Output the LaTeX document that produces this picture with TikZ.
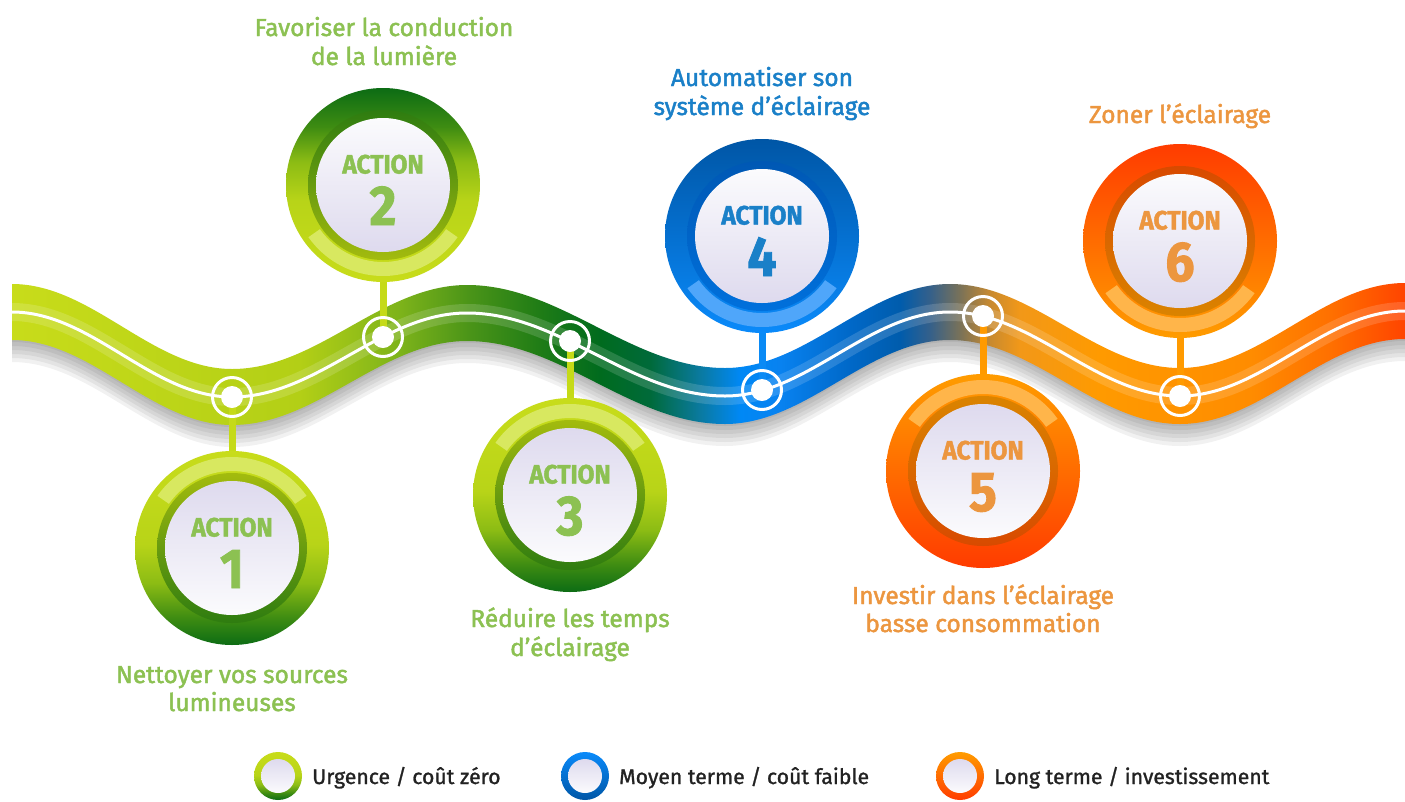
\documentclass[tikz,border=0pt]{standalone}
\usepackage{fontspec}
\setmainfont{Fira Sans}
\newfontfamily\labfont[FakeBold=1.8]{Fira Sans}
\newfontfamily\legfont[FakeBold=1.2]{Fira Sans}
\newfontfamily\actfont[BoldFeatures={FakeBold=1.6,FakeStretch=0.92}]{Fira Sans}
\usetikzlibrary{calc}
\definecolor{b0}{HTML}{C8DC1A}\definecolor{b1}{HTML}{B3CF16}\definecolor{b2}{HTML}{7DB31A}
\definecolor{b3}{HTML}{4A9418}\definecolor{b4}{HTML}{1F7C16}\definecolor{b5}{HTML}{006B1E}
\definecolor{b6}{HTML}{006A3A}\definecolor{b7}{HTML}{0A7AA0}\definecolor{b8}{HTML}{0088F5}
\definecolor{b9}{HTML}{0882F0}\definecolor{b10}{HTML}{0068C8}\definecolor{b11}{HTML}{005CAC}
\definecolor{b12}{HTML}{35608A}\definecolor{b13}{HTML}{7A7258}\definecolor{b14}{HTML}{C88A30}
\definecolor{b15}{HTML}{F29818}\definecolor{b16}{HTML}{FF9A00}\definecolor{b17}{HTML}{FF8C00}
\definecolor{b18}{HTML}{FF7000}\definecolor{b19}{HTML}{FF4400}
\pgfdeclarehorizontalshading{bandshade}{100bp}{color(0bp)=(b0); color(25bp)=(b0);
 color(35.34bp)=(b1); color(38.93bp)=(b2); color(41.44bp)=(b3); color(43.95bp)=(b4);
 color(46.11bp)=(b5); color(47.9bp)=(b6); color(49.7bp)=(b7); color(51.13bp)=(b8);
 color(52.57bp)=(b9); color(55.08bp)=(b10); color(56.87bp)=(b11); color(57.95bp)=(b12);
 color(59.03bp)=(b13); color(60.1bp)=(b14); color(61.18bp)=(b15); color(64.05bp)=(b16);
 color(69.44bp)=(b17); color(72.31bp)=(b18); color(75bp)=(b19); color(100bp)=(b19)}
\definecolor{g0}{HTML}{0C6C14}\definecolor{g1}{HTML}{3E8C12}\definecolor{g2}{HTML}{8CBC14}
\definecolor{g3}{HTML}{B8D418}\definecolor{g4}{HTML}{C8DC1A}
\pgfdeclareverticalshading{gA}{100bp}{color(0bp)=(g0); color(25bp)=(g0); color(32bp)=(g1);
 color(41bp)=(g2); color(51bp)=(g3); color(75bp)=(g4); color(100bp)=(g4)}
\pgfdeclareverticalshading{gB}{100bp}{color(0bp)=(g4); color(25bp)=(g4); color(46bp)=(g3);
 color(56bp)=(g2); color(65bp)=(g1); color(75bp)=(g0); color(100bp)=(g0)}
\definecolor{gtext}{HTML}{8CC152}
\definecolor{btext}{HTML}{1A80C8}
\definecolor{otext}{HTML}{EC963F}
\definecolor{legtext}{HTML}{222222}
\definecolor{gstem}{HTML}{C5DA18}
\definecolor{bstem}{HTML}{0A8AF5}
\definecolor{ostem}{HTML}{FF9A00}
\definecolor{ghl}{HTML}{D8E860}
\definecolor{bhl}{HTML}{4FA6FA}
\definecolor{ohl}{HTML}{FFB54A}
\definecolor{gRt}{HTML}{A3BB0E}\definecolor{gRb}{HTML}{2E7C10}
\definecolor{dLav}{HTML}{DEDAEE}\definecolor{dWht}{HTML}{FBFBFD}
\definecolor{bO1}{HTML}{0056A6}\definecolor{bO2}{HTML}{0070D6}\definecolor{bO3}{HTML}{0A8AFA}
\definecolor{bR1}{HTML}{0058B4}\definecolor{bR2}{HTML}{0070DC}
\definecolor{oO1}{HTML}{FF9C00}\definecolor{oO2}{HTML}{FF8800}\definecolor{oO3}{HTML}{FF3C00}
\definecolor{oR1}{HTML}{DA8400}\definecolor{oR2}{HTML}{D84A00}
\newcommand\wavefwd[1]{(12,{312+(#1)}) .. controls (92,{312+(#1)}) and (152,{397+(#1)}) .. (232,{397+(#1)})
 .. controls (317.6,{397+(#1)}) and (381.4,{313+(#1)}) .. (467,{313+(#1)})
 .. controls (561,{313+(#1)}) and (631,{396+(#1)}) .. (725,{396+(#1)})
 .. controls (807,{396+(#1)}) and (868,{312+(#1)}) .. (950,{312+(#1)})
 .. controls (1033.8,{312+(#1)}) and (1096.2,{396+(#1)}) .. (1180,{396+(#1)})
 .. controls (1262,{396+(#1)}) and (1323,{311+(#1)}) .. (1405,{311+(#1)})}
\newcommand\waverev[1]{(1405,{311+(#1)}) .. controls (1323,{311+(#1)}) and (1262,{396+(#1)}) .. (1180,{396+(#1)})
 .. controls (1096.2,{396+(#1)}) and (1033.8,{312+(#1)}) .. (950,{312+(#1)})
 .. controls (868,{312+(#1)}) and (807,{396+(#1)}) .. (725,{396+(#1)})
 .. controls (631,{396+(#1)}) and (561,{313+(#1)}) .. (467,{313+(#1)})
 .. controls (381.4,{313+(#1)}) and (317.6,{397+(#1)}) .. (232,{397+(#1)})
 .. controls (152,{397+(#1)}) and (92,{312+(#1)}) .. (12,{312+(#1)})}
\newcommand\drawmedal[9]{%
 \shade[#2] (#1) circle (97);
 \fill[#4] ($(#1)+(#5:91)$) arc (#5:#6:91) -- ($(#1)+(#6:77)$) arc (#6:#5:77) -- cycle;
 \shade[#3] (#1) circle (75);
 \shade[#7] (#1) circle (67);
 \node[act, text=#8] (act#9) at ($(#1)+(0,-11.5)$) {ACTION};
 \node[num, text=#8] (num#9) at ($(#1)+(0,40)$) {#9};
}
\tikzset{
 lab/.style={font=\labfont\fontsize{24.5}{28}\selectfont, anchor=base, inner sep=0pt},
 act/.style={font=\actfont\bfseries\fontsize{26.5}{26}\selectfont, anchor=base, inner sep=0pt},
 num/.style={font=\actfont\bfseries\fontsize{56}{56}\selectfont, anchor=base, inner sep=0pt},
 leg/.style={font=\legfont\fontsize{21.2}{24}\selectfont, anchor=base west, text=legtext, inner sep=0pt},
 stem/.style={line width=7},
 gOutA/.style={shading=gA},
 gOutB/.style={shading=gB},
 gRingA/.style={top color=gRt, bottom color=gRb},
 gRingB/.style={top color=gRb, bottom color=gRt},
 discA/.style={top color=dLav, bottom color=dWht},
 discB/.style={top color=dWht, bottom color=dLav},
 bOutB/.style={top color=bO1, middle color=bO2, bottom color=bO3},
 bRingB/.style={top color=bR1, bottom color=bR2},
 oOutA/.style={top color=oO1, middle color=oO2, bottom color=oO3},
 oOutB/.style={top color=oO3, middle color=oO2, bottom color=oO1},
 oRingA/.style={top color=oR1, bottom color=oR2},
 oRingB/.style={top color=oR2, bottom color=oR1},
}
\begin{document}
\begin{tikzpicture}[x=1pt,y=-1pt]
\useasboundingbox (0,0) rectangle (1405,801);
\fill[white] (0,0) rectangle (1405,801);
% shadow
\foreach \s in {4,8,12,16,20,24} {\fill[black, opacity=0.055] \wavefwd{\s-26} -- \waverev{\s+26} -- cycle;}
% band
\shade[shading=bandshade] \wavefwd{-28} -- \waverev{28} -- cycle;
\draw[white, opacity=0.15, line width=18] \wavefwd{0};
\draw[white, line width=3] \wavefwd{0};
% coordinates
\coordinate (d1) at (232,397);
\coordinate (d2) at (383,337);
\coordinate (d3) at (570,341);
\coordinate (d4) at (762,390);
\coordinate (d5) at (983,316);
\coordinate (d6) at (1180,396);
\coordinate (M1) at (232,548);
\coordinate (M2) at (383,185);
\coordinate (M3) at (570,495);
\coordinate (M4) at (762,236);
\coordinate (M5) at (983,471);
\coordinate (M6) at (1180,241);
% stems
\draw[stem, gstem] (d1) -- (M1);
\draw[stem, gstem] (d2) -- (M2);
\draw[stem, gstem] (d3) -- (M3);
\draw[stem, bstem] (d4) -- (M4);
\draw[stem, ostem] (d5) -- (M5);
\draw[stem, ostem] (d6) -- (M6);
% medallions
\drawmedal{M1}{gOutA}{gRingA}{ghl}{215}{325}{discA}{gtext}{1}
\drawmedal{M2}{gOutB}{gRingB}{ghl}{35}{145}{discB}{gtext}{2}
\drawmedal{M3}{gOutA}{gRingA}{ghl}{215}{325}{discA}{gtext}{3}
\drawmedal{M4}{bOutB}{bRingB}{bhl}{35}{145}{discB}{btext}{4}
\drawmedal{M5}{oOutA}{oRingA}{ohl}{215}{325}{discA}{otext}{5}
\drawmedal{M6}{oOutB}{oRingB}{ohl}{35}{145}{discB}{otext}{6}
% dots
\foreach \d in {d1,d2,d3,d4,d5,d6} {
 \fill[white] (\d) circle (11);
 \draw[white, line width=3] (\d) circle (19.5);
}
% labels
\node[lab, text=gtext] (t1a) at (232,683) {Nettoyer vos sources};
\node[lab, text=gtext] (t1b) at (232,711) {lumineuses};
\node[lab, text=gtext] (t2a) at (384,36) {Favoriser la conduction};
\node[lab, text=gtext] (t2b) at (384,65) {de la lumière};
\node[lab, text=gtext] (t3a) at (570,627) {Réduire les temps};
\node[lab, text=gtext] (t3b) at (570,656) {d’éclairage};
\node[lab, text=btext] (t4a) at (762,86) {Automatiser son};
\node[lab, text=btext] (t4b) at (762,115) {système d’éclairage};
\node[lab, text=otext] (t5a) at (983,604) {Investir dans l’éclairage};
\node[lab, text=otext] (t5b) at (983,632) {basse consommation};
\node[lab, text=otext] (t6a) at (1180,123) {Zoner l’éclairage};
% legend
\coordinate (lg1) at (278,776);
\coordinate (lg2) at (585,776);
\coordinate (lg3) at (960,776);
\shade[shading=gA] (lg1) circle (24);
\shade[discA] (lg1) circle (17);
\shade[top color=bO3, bottom color=bO1] (lg2) circle (24);
\shade[discA] (lg2) circle (17);
\shade[top color=oO1, bottom color=oO3] (lg3) circle (24);
\shade[discA] (lg3) circle (17);
\node[leg] (lt1) at (312,784) {Urgence / coût zéro};
\node[leg] (lt2) at (619,784) {Moyen terme / coût faible};
\node[leg] (lt3) at (994,784) {Long terme / investissement};
\end{tikzpicture}
\end{document}
